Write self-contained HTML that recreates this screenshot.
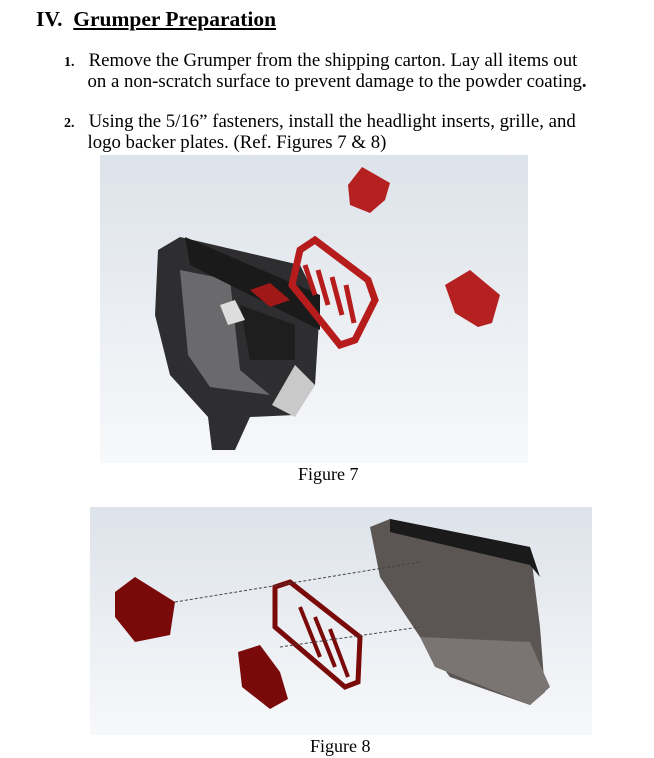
<!DOCTYPE html>
<html><head><meta charset="utf-8"><style>
body{margin:0;width:654px;height:758px;background:#fff;font-family:"Liberation Serif",serif;color:#000;position:relative;overflow:hidden}
.t{position:absolute;white-space:nowrap}
</style></head><body>
<div class="t" style="left:36px;top:7px;font-size:21.5px;font-weight:bold">IV.&nbsp; <u>Grumper Preparation</u></div>
<div class="t" style="left:64px;top:51px;font-size:18.8px;line-height:19px"><b style="font-size:14px">1.</b>&nbsp;&nbsp; Remove the Grumper from the shipping carton. Lay all items out<br>&nbsp;&nbsp;&nbsp;&nbsp; on a non-scratch surface to prevent damage to the powder coating<b>.</b></div>
<div class="t" style="left:64px;top:112px;font-size:18.8px;line-height:19px"><b style="font-size:14px">2.</b>&nbsp;&nbsp; Using the 5/16” fasteners, install the headlight inserts, grille, and<br>&nbsp;&nbsp;&nbsp;&nbsp; logo backer plates. (Ref. Figures 7 &amp; 8)</div>

<svg style="position:absolute;left:100px;top:155px" width="428" height="308">
<defs><linearGradient id="g" x1="0" y1="0" x2="0" y2="1"><stop offset="0" stop-color="#dde3ea"/><stop offset="1" stop-color="#f7f8fa"/></linearGradient></defs>
<rect width="428" height="308" fill="url(#g)"/>
<polygon points="58,95 80,82 200,110 220,150 215,230 195,260 150,262 135,295 112,295 108,262 70,220 55,160" fill="#2e2e30"/>
<polygon points="80,115 130,125 140,215 170,240 110,232 88,200" fill="#6a6a6c"/>
<polygon points="140,150 195,170 195,205 150,205" fill="#1e1e1e"/>
<polygon points="195,210 215,230 195,262 172,250" fill="#c9c9c9"/>
<polygon points="85,82 220,140 220,175 200,165 90,110" fill="#1a1a1a"/>
<polygon points="120,150 135,145 145,165 128,170" fill="#ddd"/>
<g fill="none" stroke="#b71c1c" stroke-width="7">
<polygon points="200,95 215,85 268,125 275,145 255,185 240,190 192,130"/>
</g>
<g stroke="#b71c1c" stroke-width="5"><line x1="205" y1="110" x2="215" y2="140"/><line x1="218" y1="115" x2="228" y2="150"/><line x1="232" y1="122" x2="242" y2="160"/><line x1="246" y1="130" x2="254" y2="168"/></g>
<polygon points="150,135 170,128 190,145 170,152" fill="#a01818"/>
<polygon points="248,30 262,12 290,28 285,45 270,58 250,50" fill="#b52020"/>
<polygon points="345,130 370,115 400,140 392,168 378,172 355,158" fill="#b52020"/>
</svg>
<div class="t" style="left:298px;top:464px;font-size:18px">Figure 7</div>

<svg style="position:absolute;left:90px;top:507px" width="502" height="228">
<rect width="502" height="228" fill="url(#g)"/>
<polygon points="280,20 300,12 440,40 450,120 455,185 440,198 360,170 330,130 290,70" fill="#5b5553"/>
<polygon points="300,12 440,40 450,70 440,58 300,25" fill="#1a1a1a"/>
<polygon points="330,130 440,135 460,180 440,198 345,160" fill="#7a7572"/>
<polygon points="25,85 45,70 85,95 80,128 45,135 25,110" fill="#7a0a0a"/>
<g fill="none" stroke="#7a0a0a" stroke-width="5"><polygon points="185,80 200,75 270,130 268,175 255,180 185,120"/></g>
<g stroke="#7a0a0a" stroke-width="4"><line x1="210" y1="100" x2="230" y2="150"/><line x1="225" y1="110" x2="245" y2="160"/><line x1="240" y1="122" x2="258" y2="170"/></g>
<polygon points="148,145 170,138 190,165 198,192 180,202 152,180" fill="#7a0a0a"/>
<line x1="85" y1="95" x2="330" y2="55" stroke="#444" stroke-dasharray="3,2"/>
<line x1="190" y1="140" x2="330" y2="120" stroke="#444" stroke-dasharray="3,2"/>
</svg>
<div class="t" style="left:310px;top:736px;font-size:18px">Figure 8</div>
</body></html>
